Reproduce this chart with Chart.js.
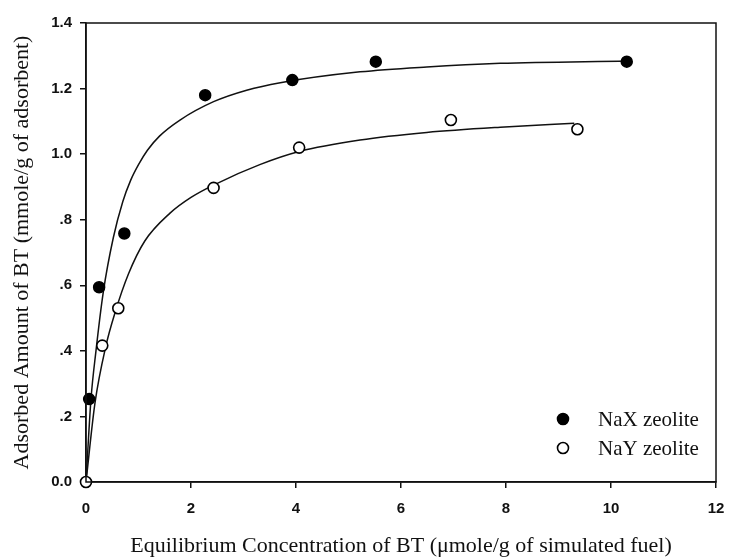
<!DOCTYPE html>
<html>
<head>
<meta charset="utf-8">
<script src="https://cdn.jsdelivr.net/npm/chart.js@4/dist/chart.umd.min.js"></script>
<style>
  html, body { margin: 0; padding: 0; background: #fff; }
  #wrap { width: 729px; height: 559px; position: relative; }
</style>
</head>
<body>
<div id="wrap"><canvas id="adsChart"></canvas></div>
<script>
// -- Data --
const naxX = [0.06, 0.25, 0.73, 2.27, 3.93, 5.52, 10.3];
const naxY = [0.253, 0.594, 0.758, 1.18, 1.226, 1.282, 1.282];

const nayX = [0, 0.31, 0.615, 2.43, 4.06, 6.95, 9.36];
const nayY = [0, 0.416, 0.53, 0.897, 1.02, 1.104, 1.076];

// fitted curves
const naxFitX = [0, 0.095, 0.19, 0.33, 0.52, 0.70, 0.85, 1.0, 1.17, 1.4, 1.79, 2.43, 3.06, 3.70, 5.22, 6.49, 7.89, 10.3];
const naxFitY = [0, 0.253, 0.40, 0.58, 0.745, 0.855, 0.92, 0.968, 1.012, 1.055, 1.104, 1.16, 1.195, 1.218, 1.251, 1.266, 1.277, 1.284];

const nayFitX = [0, 0.17, 0.38, 0.55, 0.81, 1.12, 1.6, 2.0, 2.46, 3.31, 4.06, 5.22, 6.49, 7.89, 9.3];
const nayFitY = [0, 0.24, 0.416, 0.515, 0.635, 0.735, 0.82, 0.868, 0.908, 0.968, 1.008, 1.043, 1.066, 1.082, 1.094];

const xTickLabels = ['0', '2', '4', '6', '8', '10', '12'];
const yTickLabels = ['0.0', '.2', '.4', '.6', '.8', '1.0', '1.2', '1.4'];

const seriesNames = ['NaX zeolite', 'NaY zeolite'];

function toPoints(xs, ys) {
    return xs.map((x, i) => ({ x: x, y: ys[i] }));
}

const INK = '#111';
const tickFont = { family: '"Liberation Sans", Arial, sans-serif', size: 15, weight: 'bold' };
const titleFont = { family: '"Liberation Serif", "Times New Roman", serif', size: 22 };

// -- Plugins --
const framePlugin = {
    id: 'frame',
    afterDatasetsDraw(chart) {
        const a = chart.chartArea;
        const ctx = chart.ctx;
        ctx.save();
        ctx.strokeStyle = INK;
        ctx.lineWidth = 1.5;
        ctx.strokeRect(a.left, a.top, a.right - a.left, a.bottom - a.top);
        ctx.restore();
    }
};

const legendPlugin = {
    id: 'innerLegend',
    afterDraw(chart) {
        const a = chart.chartArea;
        const ctx = chart.ctx;
        const marks = chart.data.datasets.filter(d => d.inLegend);
        ctx.save();
        ctx.font = '21px "Liberation Serif", "Times New Roman", serif';
        ctx.textBaseline = 'middle';
        marks.forEach((d, i) => {
            const cx = a.right - 153;
            const cy = a.bottom - 63 + i * 29;
            ctx.beginPath();
            ctx.arc(cx, cy, 5.5, 0, Math.PI * 2);
            ctx.fillStyle = d.pointBackgroundColor;
            ctx.fill();
            ctx.lineWidth = 1.6;
            ctx.strokeStyle = d.pointBorderColor;
            ctx.stroke();
            ctx.fillStyle = INK;
            ctx.fillText(d.label, cx + 35, cy + 1);
        });
        ctx.restore();
    }
};

// -- Chart --
const ctx = document.getElementById('adsChart').getContext('2d');
new Chart(ctx, {
    type: 'scatter',
    data: {
        datasets: [
            {
                label: 'NaX fit',
                data: toPoints(naxFitX, naxFitY),
                showLine: true,
                pointRadius: 0,
                borderColor: INK,
                borderWidth: 1.5,
                cubicInterpolationMode: 'monotone',
                order: 3
            },
            {
                label: 'NaY fit',
                data: toPoints(nayFitX, nayFitY),
                showLine: true,
                pointRadius: 0,
                borderColor: INK,
                borderWidth: 1.5,
                cubicInterpolationMode: 'monotone',
                order: 3
            },
            {
                label: seriesNames[0],
                data: toPoints(naxX, naxY),
                inLegend: true,
                pointRadius: 5.5,
                pointBackgroundColor: '#000',
                pointBorderColor: '#000',
                pointBorderWidth: 1.5,
                order: 1
            },
            {
                label: seriesNames[1],
                data: toPoints(nayX, nayY),
                inLegend: true,
                pointRadius: 5.5,
                pointBackgroundColor: '#fff',
                pointBorderColor: '#000',
                pointBorderWidth: 1.6,
                order: 0
            }
        ]
    },
    options: {
        responsive: true,
        maintainAspectRatio: false,
        animation: false,
        clip: false,
        layout: { padding: { top: 23, right: 13, left: 0, bottom: 0 } },
        plugins: {
            legend: { display: false },
            tooltip: { enabled: false }
        },
        scales: {
            x: {
                type: 'linear',
                min: 0,
                max: 12,
                afterFit: s => { s.height = 77; s.paddingRight = 0; s.paddingLeft = 0; },
                border: { display: true, color: INK, width: 1.5 },
                grid: { display: true, drawOnChartArea: false, drawTicks: true, tickLength: 6, color: INK, lineWidth: 1.5 },
                ticks: {
                    stepSize: 2,
                    autoSkip: false,
                    maxRotation: 0,
                    padding: 12,
                    color: INK,
                    font: tickFont,
                    callback: (v, i) => xTickLabels[i]
                },
                title: {
                    display: true,
                    text: 'Equilibrium Concentration of BT (\u03bcmole/g of simulated fuel)',
                    color: INK,
                    font: titleFont,
                    padding: 0
                }
            },
            y: {
                type: 'linear',
                min: 0,
                max: 1.4,
                afterFit: s => { s.width = 86; s.paddingTop = 0; s.paddingBottom = 0; },
                border: { display: true, color: INK, width: 1.5 },
                grid: { display: true, drawOnChartArea: false, drawTicks: true, tickLength: 6, color: INK, lineWidth: 1.5 },
                ticks: {
                    stepSize: 0.2,
                    autoSkip: false,
                    padding: 8,
                    color: INK,
                    font: tickFont,
                    callback: (v, i) => yTickLabels[i]
                },
                title: {
                    display: true,
                    text: 'Adsorbed Amount of BT (mmole/g of adsorbent)',
                    color: INK,
                    font: titleFont,
                    padding: { top: 9, bottom: 0 }
                }
            }
        }
    },
    plugins: [framePlugin, legendPlugin]
});
</script>
</body>
</html>
